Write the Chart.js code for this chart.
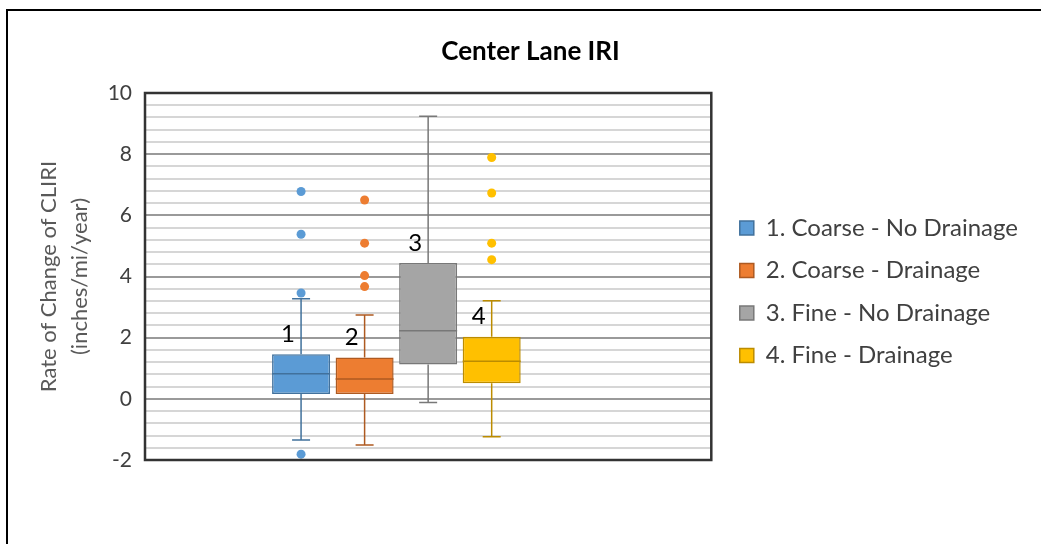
<!DOCTYPE html>
<html>
<head>
<meta charset="utf-8">
<script src="https://cdn.jsdelivr.net/npm/chart.js@4/dist/chart.umd.min.js"></script>
<style>
  html, body { margin: 0; padding: 0; background: #fff; overflow: hidden; }
  #frame { position: absolute; left: 6px; top: 9px; width: 1200px; height: 800px; border: 2px solid #000; }
  #chart { position: absolute; left: 0; top: 0; }
</style>
</head>
<body>
<div id="frame"></div>
<canvas id="chart" width="1041" height="544"></canvas>
<script>
// значения
const xCategories = ['Center Lane'];
const groups = ['1. Coarse - No Drainage', '2. Coarse - Drainage', '3. Fine - No Drainage', '4. Fine - Drainage'];
const boxTags = ['1', '2', '3', '4'];
const whiskerLow = [-1.35, -1.51, -0.12, -1.24];
const q1 = [0.16, 0.16, 1.12, 0.51];
const median = [0.82, 0.65, 2.23, 1.23];
const q3 = [1.46, 1.35, 4.44, 2.03];
const whiskerHigh = [3.27, 2.74, 9.24, 3.21];
const outliers = [
    [6.78, 5.38, 3.46, -1.81],
    [6.50, 5.09, 4.03, 3.67],
    [],
    [7.89, 6.73, 5.09, 4.55]
];

// цвета
const fillColors = ['#5B9BD5', '#ED7D31', '#A5A5A5', '#FFC000'];
const edgeColors = ['#41719C', '#AE5A21', '#787878', '#BC8C00'];

const FONT = 'Lato, "Open Sans", sans-serif';

const isMajor = v => Math.abs(v / 2 - Math.round(v / 2)) < 1e-6;

const datasets = groups.map((g, i) => ({
    label: g,
    data: [[q1[i], q3[i]]],
    backgroundColor: fillColors[i],
    borderColor: edgeColors[i],
    borderWidth: 1.5,
    borderSkipped: false,
    categoryPercentage: 0.561,
    barPercentage: 0.913
}));
// пустая серия справа, как в Excel
datasets.push({ label: '', data: [null], categoryPercentage: 0.561, barPercentage: 0.913 });

// пустые оси-отступы вокруг легенды
const spacer = (weight, w) => ({
    type: 'linear',
    position: 'right',
    weight: weight,
    ticks: { display: false },
    grid: { display: false },
    border: { display: false },
    afterFit: s => { s.width = w; }
});

// усы, медианы, выбросы и рамка
const boxPlotPlugin = {
    id: 'boxPlot',
    afterDatasetsDraw(chart) {
        const ctx = chart.ctx;
        const y = chart.scales.y;
        groups.forEach((g, i) => {
            const bar = chart.getDatasetMeta(i).data[0];
            if (!bar) return;
            const cx = bar.x;
            const half = bar.width / 2;
            const cap = 9;
            ctx.save();
            ctx.strokeStyle = edgeColors[i];
            ctx.lineWidth = 1.5;
            ctx.beginPath();
            ctx.moveTo(cx, y.getPixelForValue(q3[i]));
            ctx.lineTo(cx, y.getPixelForValue(whiskerHigh[i]));
            ctx.moveTo(cx - cap, y.getPixelForValue(whiskerHigh[i]));
            ctx.lineTo(cx + cap, y.getPixelForValue(whiskerHigh[i]));
            ctx.moveTo(cx, y.getPixelForValue(q1[i]));
            ctx.lineTo(cx, y.getPixelForValue(whiskerLow[i]));
            ctx.moveTo(cx - cap, y.getPixelForValue(whiskerLow[i]));
            ctx.lineTo(cx + cap, y.getPixelForValue(whiskerLow[i]));
            ctx.moveTo(cx - half, y.getPixelForValue(median[i]));
            ctx.lineTo(cx + half, y.getPixelForValue(median[i]));
            ctx.stroke();
            ctx.fillStyle = fillColors[i];
            outliers[i].forEach(v => {
                ctx.beginPath();
                ctx.arc(cx, y.getPixelForValue(v), 4.5, 0, Math.PI * 2);
                ctx.fill();
            });
            // номер группы над ящиком
            ctx.fillStyle = '#000';
            ctx.font = '24px ' + FONT;
            ctx.textAlign = 'center';
            ctx.textBaseline = 'middle';
            ctx.fillText(boxTags[i], cx - 13, y.getPixelForValue(q3[i]) - 20);
            ctx.restore();
        });
        const a = chart.chartArea;
        ctx.save();
        ctx.strokeStyle = '#333';
        ctx.lineWidth = 2.5;
        ctx.strokeRect(a.left, a.top, a.right - a.left, a.bottom - a.top);
        ctx.restore();
    }
};

new Chart(document.getElementById('chart'), {
    type: 'bar',
    data: { labels: xCategories, datasets: datasets },
    options: {
        responsive: false,
        animation: false,
        layout: { padding: { left: 20, right: 0, top: 0, bottom: 84 } },
        scales: {
            x: { display: false },
            y: {
                min: -2,
                max: 10,
                afterFit: s => { s.width = 125; },
                border: { display: false },
                grid: {
                    drawTicks: false,
                    color: c => isMajor(c.tick.value) ? '#9a9a9a' : '#d6d6d6',
                    lineWidth: 2
                },
                ticks: {
                    stepSize: 0.4,
                    autoSkip: false,
                    padding: 13,
                    color: '#404040',
                    font: { family: FONT, size: 21 },
                    callback: v => isMajor(v) ? String(Math.round(v)) : ''
                },
                title: {
                    display: true,
                    text: ['Rate of Change of CLIRI', '(inches/mi/year)'],
                    color: '#595959',
                    font: { family: FONT, size: 22, lineHeight: 1.41 },
                    padding: { top: 13.5, bottom: 0 }
                }
            },
            gapIn: spacer(0, 10),
            gapOut: spacer(1500, 13)
        },
        plugins: {
            title: {
                display: true,
                text: 'Center Lane IRI',
                color: '#000',
                font: { family: FONT, size: 26, weight: 'bold', lineHeight: 1.2 },
                padding: { top: 36.4, bottom: 25.4 }
            },
            legend: {
                position: 'right',
                fullSize: false,
                maxWidth: 320,
                title: { display: true, text: ' ', padding: { top: 0, bottom: 16 }, font: { size: 12, lineHeight: 1.2 } },
                labels: {
                    boxWidth: 14,
                    boxHeight: 14,
                    padding: 18.5,
                    color: '#404040',
                    font: { family: FONT, size: 24 },
                    filter: item => item.text !== ''
                }
            },
            tooltip: { enabled: false }
        }
    },
    plugins: [boxPlotPlugin]
});
</script>
</body>
</html>
